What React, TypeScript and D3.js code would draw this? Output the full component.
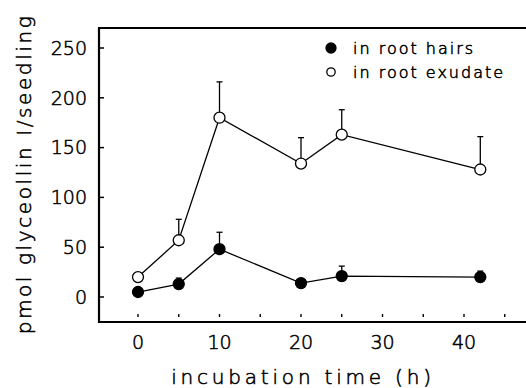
import React, { useRef, useEffect } from 'react';
import * as d3 from 'd3';

// incubation time (h)
const times = [0, 5, 10, 20, 25, 42];
// pmol glyceollin I / seedling
const rootHairs = [5, 13, 48, 14, 21, 20];
const rootHairsErr = [0, 6, 17, 0, 10, 6];
const rootExudate = [20, 57, 180, 134, 163, 128];
const rootExudateErr = [0, 21, 36, 26, 25, 33];

const xTicks = [0, 5, 10, 15, 20, 25, 30, 35, 40, 45];
const xLabels = [0, 10, 20, 30, 40];
const yTicks = [0, 50, 100, 150, 200, 250];

const legendItems = [
    { label: 'in root hairs', filled: true },
    { label: 'in root exudate', filled: false }
];

const App = () => {
    const ref = useRef<SVGSVGElement>(null);

    useEffect(() => {
        const svg = d3.select(ref.current);
        svg.selectAll('*').remove();

        const width = 526;
        const height = 388;
        const frame = { left: 99, top: 28, bottom: 322, right: 526 };
        const font = '"DejaVu Sans", sans-serif';

        // thin geometric-looking type, darkened with a hairline stroke
        const styleText = (t: any, size: number, spacing: number) => t
            .attr('font-family', font)
            .attr('font-size', size)
            .attr('font-weight', 200)
            .attr('letter-spacing', spacing)
            .attr('fill', '#000')
            .attr('stroke', '#000')
            .attr('stroke-width', 0.55);

        const x = d3.scaleLinear().domain([0, 40]).range([138, 464]);
        const y = d3.scaleLinear().domain([0, 250]).range([297, 48]);

        svg.append('rect').attr('width', width).attr('height', height).attr('fill', '#fff');

        // frame (open on the right)
        svg.append('path')
            .attr('d', `M${frame.right},${frame.top}H${frame.left}V${frame.bottom}H${frame.right}`)
            .attr('fill', 'none')
            .attr('stroke', '#000')
            .attr('stroke-width', 2.2);

        // y ticks + labels
        svg.selectAll('.ytick').data(yTicks).enter().append('line')
            .attr('x1', frame.left).attr('x2', frame.left + 5)
            .attr('y1', d => y(d)).attr('y2', d => y(d))
            .attr('stroke', '#000').attr('stroke-width', 1.5);
        styleText(svg.selectAll('.ylab').data(yTicks).enter().append('text')
            .attr('x', 87).attr('y', d => y(d))
            .attr('dy', '0.36em')
            .attr('text-anchor', 'end'), 19, 0)
            .text(d => d);

        // x ticks + labels
        svg.selectAll('.xtick').data(xTicks).enter().append('line')
            .attr('x1', d => x(d)).attr('x2', d => x(d))
            .attr('y1', frame.bottom - 8).attr('y2', frame.bottom - 5)
            .attr('stroke', '#000').attr('stroke-width', 1.4);
        styleText(svg.selectAll('.xlab').data(xLabels).enter().append('text')
            .attr('x', d => x(d)).attr('y', 349)
            .attr('text-anchor', 'middle'), 19, 0)
            .text(d => d);

        // axis titles
        styleText(svg.append('text')
            .attr('x', 303).attr('y', 384)
            .attr('text-anchor', 'middle'), 20, 3.8)
            .text('incubation time (h)');
        styleText(svg.append('text')
            .attr('transform', 'translate(31,174) rotate(-90)')
            .attr('text-anchor', 'middle'), 20, 2.6)
            .text('pmol glyceollin I/seedling');

        const series = [
            { vals: rootExudate, err: rootExudateErr, filled: false },
            { vals: rootHairs, err: rootHairsErr, filled: true }
        ];

        const line = d3.line<number>()
            .x((_, i) => x(times[i]))
            .y(d => y(d));

        series.forEach(s => {
            // error bars (upper only)
            s.vals.forEach((v, i) => {
                if (!s.err[i]) return;
                const cx = x(times[i]);
                svg.append('line')
                    .attr('x1', cx).attr('x2', cx)
                    .attr('y1', y(v)).attr('y2', y(v + s.err[i]))
                    .attr('stroke', '#000').attr('stroke-width', 1.3);
                svg.append('line')
                    .attr('x1', cx - 3).attr('x2', cx + 3)
                    .attr('y1', y(v + s.err[i])).attr('y2', y(v + s.err[i]))
                    .attr('stroke', '#000').attr('stroke-width', 1.3);
            });

            svg.append('path')
                .datum(s.vals)
                .attr('d', line)
                .attr('fill', 'none')
                .attr('stroke', '#000')
                .attr('stroke-width', 1.3);

            svg.selectAll(null).data(s.vals).enter().append('circle')
                .attr('cx', (_, i) => x(times[i]))
                .attr('cy', d => y(d))
                .attr('r', 5.5)
                .attr('fill', s.filled ? '#000' : '#fff')
                .attr('stroke', '#000')
                .attr('stroke-width', 1.3);
        });

        // legend
        legendItems.forEach((item, i) => {
            const ly = 48 + i * 24;
            svg.append('circle')
                .attr('cx', 331).attr('cy', ly)
                .attr('r', item.filled ? 5 : 4.2)
                .attr('fill', item.filled ? '#000' : '#fff')
                .attr('stroke', '#000').attr('stroke-width', 1.3);
            styleText(svg.append('text')
                .attr('x', 353).attr('y', ly)
                .attr('dy', '0.35em'), 16, 2)
                .text(item.label);
        });
    }, []);

    return (
        <svg ref={ref} width={526} height={388}
            style={{ position: 'absolute', left: 0, top: 0, display: 'block' }}></svg>
    );
};

export default App;
